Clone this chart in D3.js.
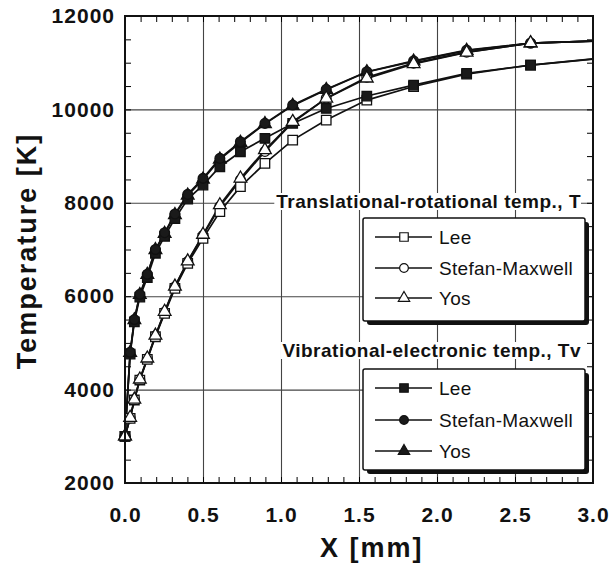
<!DOCTYPE html>
<html>
<head>
<meta charset="utf-8">
<script src="https://cdn.jsdelivr.net/npm/d3@7"></script>
<style>
  body { margin: 0; background: #fff; }
  text { font-family: "Liberation Sans", Arial, Helvetica, sans-serif; }
</style>
</head>
<body>
<script>
// distance from the wall [mm]
var xPos = [0, 0.033, 0.06, 0.095, 0.143, 0.195, 0.254, 0.32, 0.402, 0.5, 0.608, 0.74, 0.897, 1.075, 1.29, 1.55, 1.85, 2.19, 2.6, 3.0];

// translational-rotational temperature T [K]
var tLee  = [3000, 3385, 3777, 4205, 4648, 5132, 5633, 6168, 6703, 7239, 7809, 8345, 8845, 9343, 9771, 10200, 10490, 10755, 10950, 11078];
var tSM   = [3000, 3395, 3785, 4215, 4665, 5150, 5660, 6200, 6740, 7300, 7920, 8490, 9100, 9720, 10240, 10690, 10990, 11225, 11420, 11463];
var tYos  = [3000, 3400, 3790, 4220, 4670, 5160, 5670, 6210, 6750, 7320, 7952, 8523, 9130, 9735, 10236, 10665, 10975, 11220, 11420, 11463];

// vibrational-electronic temperature Tv [K]
var tvLee = [3000, 4760, 5450, 5980, 6400, 6920, 7280, 7660, 8080, 8380, 8772, 9093, 9380, 9700, 10020, 10286, 10520, 10770, 10950, 11080];
var tvSM  = [3000, 4800, 5500, 6040, 6470, 7000, 7360, 7760, 8180, 8523, 8951, 9307, 9701, 10093, 10430, 10806, 11040, 11270, 11420, 11465];
var tvYos = [3000, 4790, 5490, 6030, 6460, 6990, 7340, 7740, 8160, 8500, 8930, 9290, 9690, 10080, 10420, 10800, 11030, 11260, 11418, 11462];

var xTicks = [0, 0.5, 1.0, 1.5, 2.0, 2.5, 3.0];
var yTicks = [2000, 4000, 6000, 8000, 10000, 12000];
var legendNames = ["Lee", "Stefan-Maxwell", "Yos"];

const W = 611, H = 570;
const pLeft = 125, pRight = 593, pTop = 16, pBottom = 483;

var x = d3.scaleLinear().domain([0, 3]).range([pLeft, pRight]);
var y = d3.scaleLinear().domain([2000, 12000]).range([pBottom, pTop]);

var svg = d3.select("body").append("svg")
    .attr("width", W)
    .attr("height", H);

// grid lines
svg.append("g")
    .attr("transform", "translate(0," + pBottom + ")")
    .call(d3.axisBottom(x).tickValues([0.5, 1.0, 1.5, 2.0, 2.5]).tickSize(-(pBottom - pTop)).tickFormat(""))
    .call(g => g.select(".domain").remove())
    .call(g => g.selectAll("line").attr("stroke", "#444").attr("stroke-width", 1.1));

svg.append("g")
    .attr("transform", "translate(" + pLeft + ",0)")
    .call(d3.axisLeft(y).tickValues([4000, 6000, 8000, 10000]).tickSize(-(pRight - pLeft)).tickFormat(""))
    .call(g => g.select(".domain").remove())
    .call(g => g.selectAll("line").attr("stroke", "#444").attr("stroke-width", 1.1));

// small inward ticks on all four sides
var xMinor = d3.range(0, 30).map(d => d / 10);
var yMinor = d3.range(2000, 12001, 500);

svg.append("g").attr("transform", "translate(0," + pBottom + ")")
    .call(d3.axisBottom(x).tickValues(xMinor).tickSize(-6).tickFormat(""))
    .call(g => g.select(".domain").remove());
svg.append("g").attr("transform", "translate(0," + pTop + ")")
    .call(d3.axisTop(x).tickValues(xMinor).tickSize(-6).tickFormat(""))
    .call(g => g.select(".domain").remove());
svg.append("g").attr("transform", "translate(" + pLeft + ",0)")
    .call(d3.axisLeft(y).tickValues(yMinor).tickSize(-6).tickFormat(""))
    .call(g => g.select(".domain").remove());
svg.append("g").attr("transform", "translate(" + pRight + ",0)")
    .call(d3.axisRight(y).tickValues(yMinor).tickSize(-6).tickFormat(""))
    .call(g => g.select(".domain").remove());

// tick labels
svg.append("g")
    .attr("transform", "translate(0," + pBottom + ")")
    .call(d3.axisBottom(x).tickValues(xTicks).tickSize(0).tickPadding(24).tickFormat(d3.format(".1f")))
    .call(g => g.select(".domain").remove())
    .call(g => g.selectAll("text")
        .attr("font-size", "21px").attr("font-weight", "bold")
        .attr("letter-spacing", "1px").attr("fill", "#111")
        .attr("font-family", '"Liberation Sans", Arial, sans-serif'));

svg.append("g")
    .attr("transform", "translate(" + pLeft + ",0)")
    .call(d3.axisLeft(y).tickValues(yTicks).tickSize(0).tickPadding(10).tickFormat(d3.format("d")))
    .call(g => g.select(".domain").remove())
    .call(g => g.selectAll("text")
        .attr("font-size", "21px").attr("font-weight", "bold")
        .attr("letter-spacing", "1px").attr("fill", "#111")
        .attr("font-family", '"Liberation Sans", Arial, sans-serif'));

// axis titles
svg.append("text")
    .text("X [mm]")
    .attr("x", 320)
    .attr("y", 557)
    .attr("font-size", "27px")
    .attr("font-weight", "bold")
    .attr("letter-spacing", "2px")
    .attr("fill", "#111");

svg.append("text")
    .text("Temperature [K]")
    .attr("transform", "translate(36,251) rotate(-90)")
    .attr("text-anchor", "middle")
    .attr("font-size", "27px")
    .attr("font-weight", "bold")
    .attr("letter-spacing", "2px")
    .attr("fill", "#111");

// series (legend order)
var tSeries = [
    { vals: tLee,  shape: d3.symbolSquare,   size: 90, fill: "#fff" },
    { vals: tSM,   shape: d3.symbolCircle,   size: 75, fill: "#fff" },
    { vals: tYos,  shape: d3.symbolTriangle, size: 70, fill: "#fff" }
];
var tvSeries = [
    { vals: tvLee, shape: d3.symbolSquare,   size: 90, fill: "#1a1a1a" },
    { vals: tvSM,  shape: d3.symbolCircle,   size: 75, fill: "#1a1a1a" },
    { vals: tvYos, shape: d3.symbolTriangle, size: 70, fill: "#1a1a1a" }
];

var line = d3.line()
    .x(d => x(d[0]))
    .y(d => y(d[1]));

var plot = svg.append("g");

tvSeries.concat(tSeries).forEach(function (s) {
    var pts = xPos.map((xv, i) => [xv, s.vals[i]]);
    plot.append("path")
        .datum(pts)
        .attr("d", line)
        .attr("fill", "none")
        .attr("stroke", "#111")
        .attr("stroke-width", 1.7);
});

// marker stacking: filled squares over open squares, open triangles on top
var markerOrder = [tvSeries[2], tSeries[1], tSeries[0], tvSeries[0], tvSeries[1], tSeries[2]];
markerOrder.forEach(function (s) {
    var pts = xPos.map((xv, i) => [xv, s.vals[i]]).filter(d => d[0] < 3);
    plot.selectAll(null)
        .data(pts)
        .enter().append("path")
        .attr("d", d3.symbol().type(s.shape).size(s.size))
        .attr("transform", d => "translate(" + x(d[0]) + "," + y(d[1]) + ")")
        .attr("fill", s.fill)
        .attr("stroke", "#111")
        .attr("stroke-width", 1.3);
});

// plot frame
svg.append("rect")
    .attr("x", pLeft)
    .attr("y", pTop)
    .attr("width", pRight - pLeft)
    .attr("height", pBottom - pTop)
    .attr("fill", "none")
    .attr("stroke", "#111")
    .attr("stroke-width", 2);

// legends
function drawLegend(title, titleY, boxY, boxH, rows, set) {
    var g = svg.append("g");

    var t = g.append("text")
        .text(title)
        .attr("x", 581)
        .attr("y", titleY)
        .attr("text-anchor", "end")
        .attr("font-size", "19px")
        .attr("font-weight", "bold")
        .attr("letter-spacing", "0.5px")
        .attr("fill", "#111");
    var bb = t.node().getBBox();
    g.insert("rect", "text")
        .attr("x", bb.x - 2)
        .attr("y", bb.y + 2)
        .attr("width", bb.width + 2)
        .attr("height", bb.height - 4)
        .attr("fill", "#fff");

    var bx = 363, bw = 222;
    g.append("rect")
        .attr("x", bx + 4).attr("y", boxY + 4)
        .attr("width", bw).attr("height", boxH)
        .attr("rx", 3)
        .attr("fill", "#111");
    g.append("rect")
        .attr("x", bx).attr("y", boxY)
        .attr("width", bw).attr("height", boxH)
        .attr("rx", 2)
        .attr("fill", "#fff")
        .attr("stroke", "#111")
        .attr("stroke-width", 1.5);

    legendNames.forEach(function (name, i) {
        var s = set[i];
        var ry = rows[i];
        g.append("line")
            .attr("x1", 375).attr("x2", 432)
            .attr("y1", ry).attr("y2", ry)
            .attr("stroke", "#111")
            .attr("stroke-width", 1.5);
        g.append("path")
            .attr("d", d3.symbol().type(s.shape).size(s.size * 0.8))
            .attr("transform", "translate(404," + ry + ")")
            .attr("fill", s.fill)
            .attr("stroke", "#111")
            .attr("stroke-width", 1.2);
        g.append("text")
            .text(name)
            .attr("x", 439)
            .attr("y", ry + 7)
            .attr("font-size", "19px")
            .attr("letter-spacing", "0.3px")
            .attr("fill", "#111");
    });
}

drawLegend("Translational-rotational temp., T", 208, 218, 103, [237, 268, 298], tSeries);
drawLegend("Vibrational-electronic temp., Tv", 357, 369, 101, [388, 420, 451], tvSeries);
</script>
</body>
</html>
